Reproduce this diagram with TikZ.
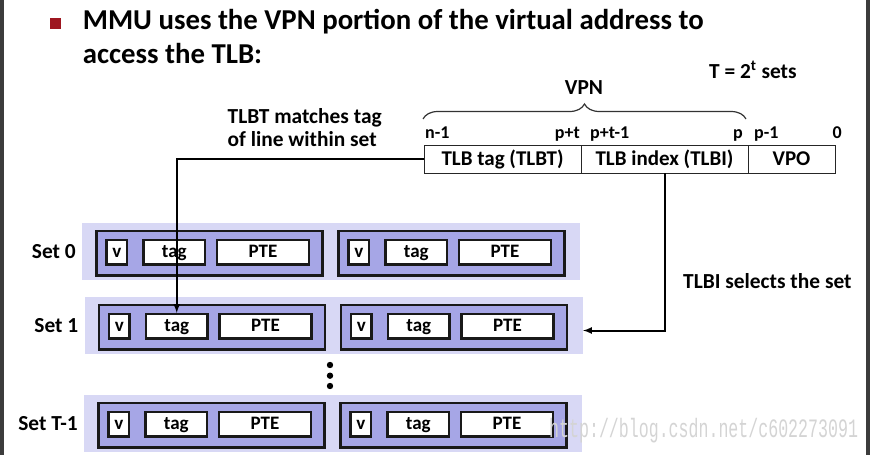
\documentclass[tikz,border=0pt]{standalone}
\usepackage{fontspec}
\setmainfont{Carlito}
\newfontfamily\wmfont{Liberation Mono}
\usetikzlibrary{arrows,positioning,decorations.pathreplacing}
\definecolor{setband}{RGB}{216,216,245}
\definecolor{linefill}{RGB}{166,166,230}
\definecolor{bulletred}{RGB}{158,22,32}
\definecolor{framegray}{RGB}{60,60,60}
\newcommand{\fsz}[1]{\fontsize{#1}{#1}\selectfont\bfseries}
\tikzset{
  band/.style={fill=setband,draw=none,inner sep=0pt,minimum width=498pt,minimum height=57pt},
  linebox/.style={draw=black!90,line width=2.6pt,fill=linefill,inner sep=0pt,
    minimum width=226pt,minimum height=44.5pt},
  field/.style={draw=black!90,line width=2.2pt,fill=white,inner sep=0pt,
    minimum height=24.5pt,text height=12pt,text depth=1pt,font=\fsz{19}},
  addr/.style={draw=black!85,line width=1pt,inner sep=0pt,outer sep=0pt,
    minimum height=28pt,text height=13.5pt,text depth=1pt,font=\fsz{21}},
  bit/.style={inner sep=0pt,font=\fsz{18}},
  note/.style={inner sep=0pt,font=\fsz{21.4}},
  conn/.style={line width=2pt,-latex},
}
\begin{document}
\begin{tikzpicture}[x=1pt,y=-1pt]
  \useasboundingbox (0,0) rectangle (870,455);
  \fill[framegray] (0,0) rectangle (3.5,455);
  \fill[framegray] (866,0) rectangle (870,455);
  % heading
  \fill[bulletred] (50,17.7) rectangle (61,29.3);
  \node[inner sep=0pt,font=\fsz{28.8},anchor=base west] (title1) at (82.7,29.3)
    {MMU uses the VPN portion of the virtual address to};
  \node[inner sep=0pt,font=\fsz{28.8},anchor=base west] (title2) at (82.7,63.3)
    {access the TLB:};
  \node[note,anchor=base west] (tsets) at (709,78) {T = 2\textsuperscript{t} sets};
  % virtual address
  \node[addr,minimum width=157pt,anchor=north west] (tlbt) at (424,145) {TLB tag (TLBT)};
  \node[addr,minimum width=167pt,right=0pt of tlbt] (tlbi) {TLB index (TLBI)};
  \node[addr,minimum width=87pt,right=0pt of tlbi] (vpo) {VPO};
  \node[bit,anchor=base west] (bn1) at (425,138.5) {n-1};
  \node[bit,anchor=base east] (bpt) at (580,138.5) {p+t};
  \node[bit,anchor=base west] (bpt1) at (590,138.5) {p+t-1};
  \node[bit,anchor=base east] (bp) at (743,138.5) {p};
  \node[bit,anchor=base west] (bp1) at (754,138.5) {p-1};
  \node[bit,anchor=base east] (b0) at (842,138.5) {0};
  \draw[black!80,line width=1.2pt,decorate,decoration={brace,amplitude=15pt}]
    (423,119) -- (746,119);
  \node[note] (vpn) at (584,88) {VPN};
  \node[note,anchor=base west] (tlbtnote1) at (227.5,123.5) {TLBT matches tag};
  \node[note,anchor=base west] (tlbtnote2) at (227.5,146.7) {of line within set};
  \node[note,anchor=base west] (tlbinote) at (683,288.7) {TLBI selects the set};
  % sets
  \foreach \nm/\lab/\yy/\dx in {s0/Set 0/223/0,s1/Set 1/297/2.5,sT/Set T-1/395/2}{
    \node[band,anchor=north west] (\nm) at (82+\dx,\yy) {};
    \node[note,anchor=base east] (\nm-lab) at (76+\dx,\yy+35.5) {\lab};
    \foreach \k/\lx in {a/95,b/337}{
      \node[linebox,anchor=north west] (\nm\k) at (\lx+\dx,\yy+6.5) {};
      \node[field,minimum width=20.5pt] (\nm\k-v) at (\lx+\dx+21.75,\yy+29.25) {v};
      \node[field,minimum width=61.5pt] (\nm\k-tag) at (\lx+\dx+79.25,\yy+29.25) {tag};
      \node[field,minimum width=92pt] (\nm\k-pte) at (\lx+\dx+168,\yy+29.25) {PTE};
    }
  }
  \fill (330,365) circle (3.2) (330,375.7) circle (3.2) (330,386) circle (3.2);
  \node[anchor=west,inner sep=0pt,text=black!17] (wm) at (549,431)
    {\scalebox{1}[1.6]{\wmfont\fontsize{16.6}{16.6}\selectfont http://blog.csdn.net/c602273091}};
  % lookups
  \coordinate (selin) at (583,330.5);
  \draw[conn] (tlbt.west) -| (s1a-tag.north);
  \draw[conn] (tlbi.south) |- (selin);
\end{tikzpicture}
\end{document}
